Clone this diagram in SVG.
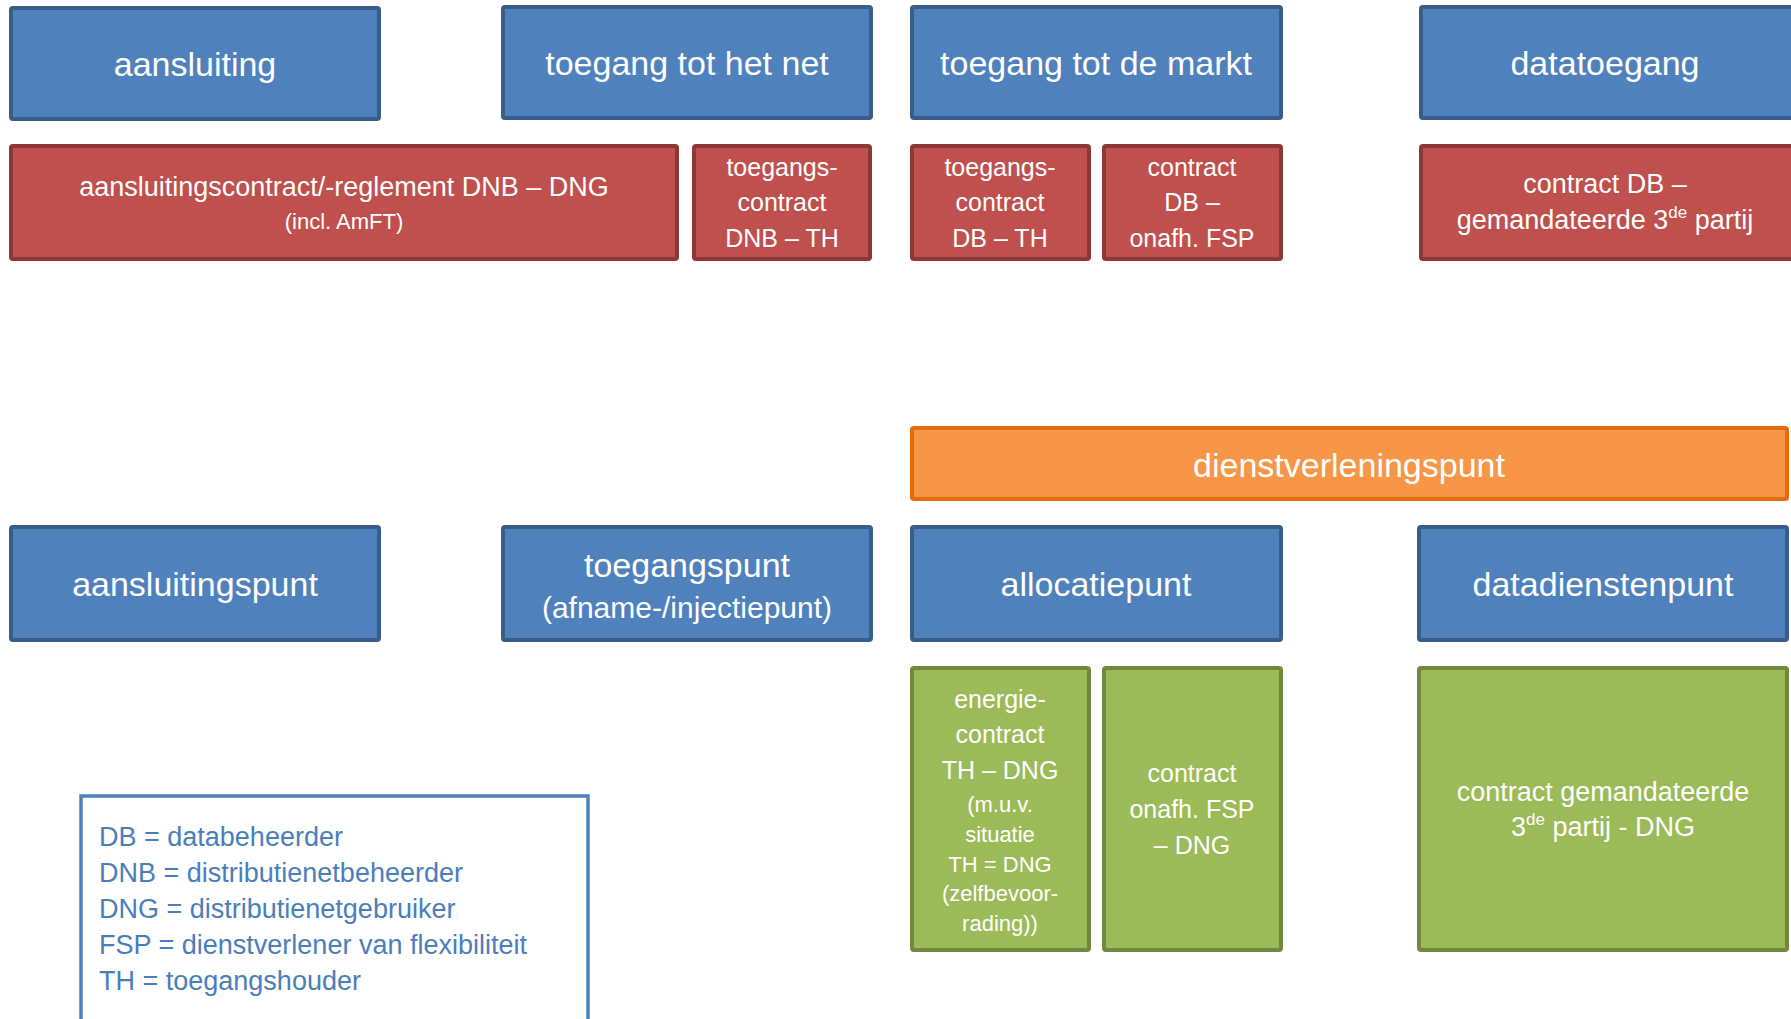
<svg xmlns="http://www.w3.org/2000/svg" width="1791" height="1019" viewBox="0 0 1791 1019">
<style>
text{font-family:"Liberation Sans",Arial,sans-serif;fill:#fff;text-anchor:middle}
.blue{fill:#4F81BD;stroke:#385D8A;stroke-width:4}
.red{fill:#C0504D;stroke:#8C3836;stroke-width:4}
.orange{fill:#F79646;stroke:#E46C0A;stroke-width:4}
.green{fill:#9BBB59;stroke:#71893F;stroke-width:4}
.legend{fill:#fff;stroke:#4F81BD;stroke-width:3.5}
.h{font-size:34px}
.m{font-size:27px}
.n{font-size:25px}
.s{font-size:22px}
.sup{font-size:17px}
.lt{fill:#4A7EBB;text-anchor:start;font-size:27px}
</style>
<rect width="1791" height="1019" fill="#fff"/>
<g id="aansluiting"><rect class="blue" x="11" y="8" width="368" height="111" rx="2"/><text class="h" x="195" y="76">aansluiting</text></g>
<g id="toegang-net"><rect class="blue" x="503" y="7" width="368" height="111" rx="2"/><text class="h" x="687" y="75">toegang tot het net</text></g>
<g id="toegang-markt"><rect class="blue" x="912" y="7" width="369" height="111" rx="2"/><text class="h" x="1096" y="75">toegang tot de markt</text></g>
<g id="datatoegang"><rect class="blue" x="1421" y="7" width="380" height="111" rx="2"/><text class="h" x="1605" y="75">datatoegang</text></g>

<g id="aansluitingscontract"><rect class="red" x="11" y="146" width="666" height="113" rx="2"/><text class="m" x="344" y="196">aansluitingscontract/-reglement DNB – DNG</text><text class="s" x="344" y="229">(incl. AmFT)</text></g>
<g id="toegangscontract-dnb"><rect class="red" x="694" y="146" width="176" height="113" rx="2"/><text class="n" x="782" y="176">toegangs-</text><text class="n" x="782" y="211">contract</text><text class="n" x="782" y="247">DNB – TH</text></g>
<g id="toegangscontract-db"><rect class="red" x="912" y="146" width="177" height="113" rx="2"/><text class="n" x="1000" y="176">toegangs-</text><text class="n" x="1000" y="211">contract</text><text class="n" x="1000" y="247">DB – TH</text></g>
<g id="contract-db-fsp"><rect class="red" x="1104" y="146" width="177" height="113" rx="2"/><text class="n" x="1192" y="176">contract</text><text class="n" x="1192" y="211">DB –</text><text class="n" x="1192" y="247">onafh. FSP</text></g>
<g id="contract-db-3de"><rect class="red" x="1421" y="146" width="380" height="113" rx="2"/><text class="m" x="1605" y="193">contract DB –</text><text class="m" x="1605" y="229">gemandateerde 3<tspan class="sup" dy="-11">de</tspan><tspan dy="11"> partij</tspan></text></g>

<g id="dienstverleningspunt"><rect class="orange" x="912" y="428" width="875" height="71" rx="2"/><text class="h" x="1349" y="477">dienstverleningspunt</text></g>

<g id="aansluitingspunt"><rect class="blue" x="11" y="527" width="368" height="113" rx="2"/><text class="h" x="195" y="596">aansluitingspunt</text></g>
<g id="toegangspunt"><rect class="blue" x="503" y="527" width="368" height="113" rx="2"/><text class="h" x="687" y="577">toegangspunt</text><text x="687" y="618" style="font-size:30px">(afname-/injectiepunt)</text></g>
<g id="allocatiepunt"><rect class="blue" x="912" y="527" width="369" height="113" rx="2"/><text class="h" x="1096" y="596">allocatiepunt</text></g>
<g id="datadienstenpunt"><rect class="blue" x="1419" y="527" width="368" height="113" rx="2"/><text class="h" x="1603" y="596">datadienstenpunt</text></g>

<g id="energiecontract"><rect class="green" x="912" y="668" width="177" height="282" rx="2"/><text class="n" x="1000" y="708">energie-</text><text class="n" x="1000" y="743">contract</text><text class="n" x="1000" y="779">TH – DNG</text><text class="s" x="1000" y="812">(m.u.v.</text><text class="s" x="1000" y="842">situatie</text><text class="s" x="1000" y="872">TH = DNG</text><text class="s" x="1000" y="901">(zelfbevoor-</text><text class="s" x="1000" y="931">rading))</text></g>
<g id="contract-fsp-dng"><rect class="green" x="1104" y="668" width="177" height="282" rx="2"/><text class="n" x="1192" y="782">contract</text><text class="n" x="1192" y="818">onafh. FSP</text><text class="n" x="1192" y="854">– DNG</text></g>
<g id="contract-3de-dng"><rect class="green" x="1419" y="668" width="368" height="282" rx="2"/><text class="m" x="1603" y="801">contract gemandateerde</text><text class="m" x="1603" y="836">3<tspan class="sup" dy="-11">de</tspan><tspan dy="11"> partij - DNG</tspan></text></g>

<g id="legende"><rect class="legend" x="81" y="796" width="507" height="240"/>
<text class="lt" x="99" y="846">DB = databeheerder</text>
<text class="lt" x="99" y="882">DNB = distributienetbeheerder</text>
<text class="lt" x="99" y="918">DNG = distributienetgebruiker</text>
<text class="lt" x="99" y="954">FSP = dienstverlener van flexibiliteit</text>
<text class="lt" x="99" y="990">TH = toegangshouder</text></g>
<g id="connectors"></g>
</svg>
